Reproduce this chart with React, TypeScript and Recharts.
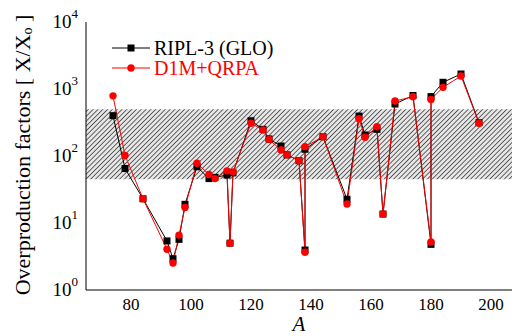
import React from "react";
import { LineChart, Line, XAxis, YAxis, ReferenceArea, Legend } from "recharts";

// p-nuclei mass numbers (138 and 180 appear twice: Ce/La, Ta/W)
const massNumbers = [
  74, 78, 84, 92, 94, 96, 98, 102, 106, 108, 112, 113, 114, 120, 124, 126, 130,
  132, 136, 138, 138, 144, 152, 156, 158, 162, 164, 168, 174, 180, 180, 184, 190, 196,
];
const riplGlo = [
  400, 65, 23, 5.4, 2.93, 5.7, 19, 69, 46, 48, 52, 5.0, 56, 336, 250, 180, 141,
  104, 85, 3.95, 126, 194, 22.6, 395, 206, 250, 13.6, 597, 800, 4.8, 770, 1259, 1675, 314,
];
const d1mQrpa = [
  790, 102, 23, 4.05, 2.53, 6.6, 17, 78, 53, 46, 60, 5.0, 58, 308, 245, 177, 123,
  104, 85, 3.66, 138, 194, 19.2, 361, 190, 273, 13.6, 662, 767, 5.2, 700, 1059, 1563, 308,
];

const xMajorTicks = [80, 100, 120, 140, 160, 180, 200];
const xMinorTicks = [70, 75, 85, 90, 95, 105, 110, 115, 125, 130, 135, 145, 150, 155, 165, 170, 175, 185, 190, 195, 205];
const yMajorTicks = [1, 10, 100, 1000, 10000];
const yMinorTicks = [
  2, 3, 4, 5, 6, 7, 8, 9, 20, 30, 40, 50, 60, 70, 80, 90,
  200, 300, 400, 500, 600, 700, 800, 900, 2000, 3000, 4000, 5000, 6000, 7000, 8000, 9000,
];
const xDomain = [65, 207];
const yDomain = [1, 10000];
const band = [45, 500];

const data = massNumbers.map((a, i) => ({ A: a, ripl: riplGlo[i], d1m: d1mQrpa[i] }));

const FONT = "Liberation Serif";

const SquareDot = (props: any) => {
  const { cx, cy, index } = props;
  if (cx == null || cy == null) return <g key={`sq-${index}`} />;
  return <rect key={`sq-${index}`} x={cx - 3.5} y={cy - 3.5} width={7} height={7} fill="#000" />;
};

const PowerTick = (props: any) => {
  const { x, y, payload } = props;
  const exp = Math.round(Math.log10(payload.value));
  return (
    <text x={x} y={y} dy={6} textAnchor="end" fontFamily={FONT} fontSize={19} fill="#000">
      10
      <tspan dy={-10} fontSize={13}>{exp}</tspan>
    </text>
  );
};

const YLabel = (props: any) => {
  const vb = props.viewBox || {};
  const cx = 22;
  const cy = vb.y + vb.height / 2 - 1;
  return (
    <text
      x={cx}
      y={cy}
      transform={`rotate(-90, ${cx}, ${cy})`}
      textAnchor="middle"
      dominantBaseline="central"
      fontFamily={FONT}
      fontSize={22}
      fill="#000"
    >
      Overproduction factors [ X/X
      <tspan dy={5} fontSize={14}>o</tspan>
      <tspan dy={-5}> ]</tspan>
    </text>
  );
};

const legendItems = [
  { name: "RIPL-3 (GLO)", color: "#000", shape: "square" },
  { name: "D1M+QRPA", color: "#ff0000", shape: "circle" },
];

const renderLegend = () => (
  <div style={{ fontFamily: FONT, fontSize: 20 }}>
    {legendItems.map((it) => (
      <div key={it.name} style={{ display: "flex", alignItems: "center", height: 20 }}>
        <svg width={38} height={20}>
          <line x1={0} y1={10} x2={38} y2={10} stroke={it.color} strokeWidth={1} />
          {it.shape === "square" ? (
            <rect x={15.5} y={6.5} width={7} height={7} fill={it.color} />
          ) : (
            <circle cx={19} cy={10} r={3.7} fill={it.color} />
          )}
        </svg>
        <span style={{ marginLeft: 4, color: it.color, lineHeight: "20px" }}>{it.name}</span>
      </div>
    ))}
  </div>
);

export default function App() {
  return (
    <div style={{ position: "absolute", left: 0, top: 0, fontFamily: FONT }}>
      <LineChart width={514} height={336} data={data} margin={{ top: 22, right: 2, bottom: 0, left: 0 }}>
        <defs>
          <pattern id="hatch" width="3.4" height="3.4" patternUnits="userSpaceOnUse" patternTransform="rotate(45)">
            <rect width="3.4" height="3.4" fill="#e6e6e6" />
            <line x1="0" y1="0" x2="0" y2="3.4" stroke="#2a2a2a" strokeWidth={1.4} />
          </pattern>
        </defs>

        {/* labelled axes */}
        <XAxis
          xAxisId="x"
          dataKey="A"
          type="number"
          domain={xDomain}
          allowDataOverflow
          ticks={xMajorTicks}
          interval={0}
          tickLine={false}
          tickMargin={2}
          height={46}
          axisLine={{ stroke: "#000" }}
          tick={{ fontFamily: FONT, fontSize: 17, fill: "#000" }}
          label={{ value: "A", position: "insideBottom", offset: 5, fontFamily: FONT, fontSize: 21, fontStyle: "italic", fill: "#000" }}
        />
        <YAxis
          yAxisId="y"
          scale="log"
          domain={yDomain}
          allowDataOverflow
          ticks={yMajorTicks}
          interval={0}
          tickLine={false}
          width={86}
          axisLine={{ stroke: "#000" }}
          tick={<PowerTick />}
          label={<YLabel />}
        />

        {/* inward tick marks and frame */}
        <XAxis xAxisId="xbMin" type="number" domain={xDomain} allowDataOverflow mirror height={0} ticks={xMinorTicks} interval={0} tickSize={3} tick={false} axisLine={false} tickLine={{ stroke: "#000" }} />
        <XAxis xAxisId="xbMaj" type="number" domain={xDomain} allowDataOverflow mirror height={0} ticks={xMajorTicks} interval={0} tickSize={6} tick={false} axisLine={false} tickLine={{ stroke: "#000" }} />
        <XAxis xAxisId="xtMin" orientation="top" type="number" domain={xDomain} allowDataOverflow mirror height={0} ticks={xMinorTicks} interval={0} tickSize={3} tick={false} axisLine={{ stroke: "#000" }} tickLine={{ stroke: "#000" }} />
        <XAxis xAxisId="xtMaj" orientation="top" type="number" domain={xDomain} allowDataOverflow mirror height={0} ticks={xMajorTicks} interval={0} tickSize={6} tick={false} axisLine={false} tickLine={{ stroke: "#000" }} />
        <YAxis yAxisId="ylMin" scale="log" domain={yDomain} allowDataOverflow mirror width={0} ticks={yMinorTicks} interval={0} tickSize={3} tick={false} axisLine={false} tickLine={{ stroke: "#000" }} />
        <YAxis yAxisId="ylMaj" scale="log" domain={yDomain} allowDataOverflow mirror width={0} ticks={yMajorTicks} interval={0} tickSize={6} tick={false} axisLine={false} tickLine={{ stroke: "#000" }} />
        <YAxis yAxisId="yrMin" orientation="right" scale="log" domain={yDomain} allowDataOverflow mirror width={0} ticks={yMinorTicks} interval={0} tickSize={3} tick={false} axisLine={{ stroke: "#000" }} tickLine={{ stroke: "#000" }} />
        <YAxis yAxisId="yrMaj" orientation="right" scale="log" domain={yDomain} allowDataOverflow mirror width={0} ticks={yMajorTicks} interval={0} tickSize={6} tick={false} axisLine={false} tickLine={{ stroke: "#000" }} />

        <ReferenceArea xAxisId="x" yAxisId="y" y1={band[0]} y2={band[1]} fill="url(#hatch)" fillOpacity={1} stroke="none" ifOverflow="hidden" />

        <Line
          xAxisId="x"
          yAxisId="y"
          dataKey="ripl"
          name="RIPL-3 (GLO)"
          stroke="#000"
          strokeWidth={1}
          dot={SquareDot}
          isAnimationActive={false}
        />
        <Line
          xAxisId="x"
          yAxisId="y"
          dataKey="d1m"
          name="D1M+QRPA"
          stroke="#ff0000"
          strokeWidth={1}
          dot={{ r: 3.7, fill: "#ff0000", stroke: "none" }}
          isAnimationActive={false}
        />

        <Legend
          layout="vertical"
          align="center"
          verticalAlign="middle"
          content={renderLegend}
          wrapperStyle={{ left: 112, top: 38, width: "auto", height: "auto" }}
        />
      </LineChart>
    </div>
  );
}
